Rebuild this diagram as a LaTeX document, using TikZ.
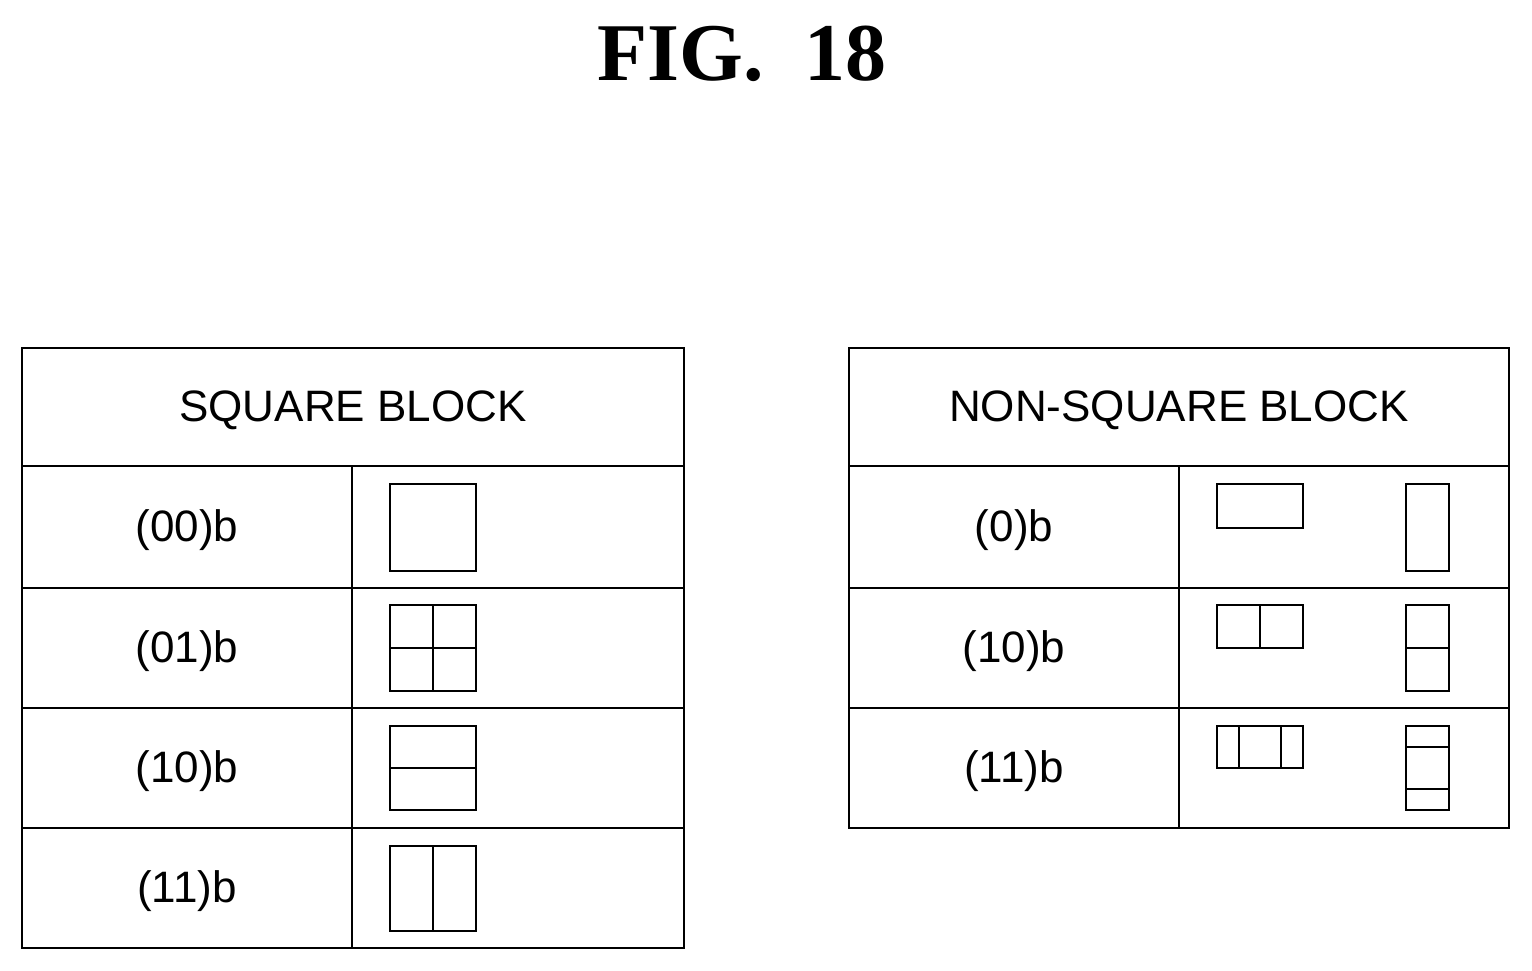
\documentclass[tikz,border=0pt]{standalone}
\usepackage{fontspec}
\setmainfont{Liberation Sans}
\newfontfamily\figfont{Liberation Serif}
\usetikzlibrary{calc}
\begin{document}
\begin{tikzpicture}[x=1pt,y=-1pt,inner sep=0pt,outer sep=0pt,
    line width=2pt,
    cell/.style={font=\fontsize{44}{50}\selectfont},
    icon/.style={line width=1.6pt}]
    \useasboundingbox (0,0) rectangle (1532,970);
    % title
    \node[font=\figfont\bfseries\fontsize{82}{90}\selectfont] (fig_title) at (742,54) {FIG.\ \ 18};

    % square block table
    \draw (22,348) rectangle (684,948);
    \foreach \y in {466,588,708,828} \draw (22,\y) -- (684,\y);
    \draw (352,466) -- (352,948);
    \node[cell] (sq_head) at (353,410) {SQUARE BLOCK};
    \node[cell] (sq_00) at (187,530) {(00)b};
    \node[cell] (sq_01) at (187,651) {(01)b};
    \node[cell] (sq_10) at (187,771) {(10)b};
    \node[cell] (sq_11) at (187,891) {(11)b};
    \draw[icon] (390,484) rectangle (476,571);
    \draw[icon] (390,605) rectangle (476,691) (433,605) -- (433,691) (390,648) -- (476,648);
    \draw[icon] (390,726) rectangle (476,810) (390,768) -- (476,768);
    \draw[icon] (390,846) rectangle (476,931) (433,846) -- (433,931);

    % non-square block table
    \draw (849,348) rectangle (1509,828);
    \foreach \y in {466,588,708} \draw (849,\y) -- (1509,\y);
    \draw (1179,466) -- (1179,828);
    \node[cell] (nsq_head) at (1179,410) {NON-SQUARE BLOCK};
    \node[cell] (nsq_0) at (1014,530) {(0)b};
    \node[cell] (nsq_10) at (1014,651) {(10)b};
    \node[cell] (nsq_11) at (1014,771) {(11)b};
    \draw[icon] (1217,484) rectangle (1303,528);
    \draw[icon] (1406,484) rectangle (1449,571);
    \draw[icon] (1217,605) rectangle (1303,648) (1260,605) -- (1260,648);
    \draw[icon] (1406,605) rectangle (1449,691) (1406,648) -- (1449,648);
    \draw[icon] (1217,726) rectangle (1303,768) (1239,726) -- (1239,768) (1281,726) -- (1281,768);
    \draw[icon] (1406,726) rectangle (1449,810) (1406,747) -- (1449,747) (1406,789) -- (1449,789);
\end{tikzpicture}
\end{document}
